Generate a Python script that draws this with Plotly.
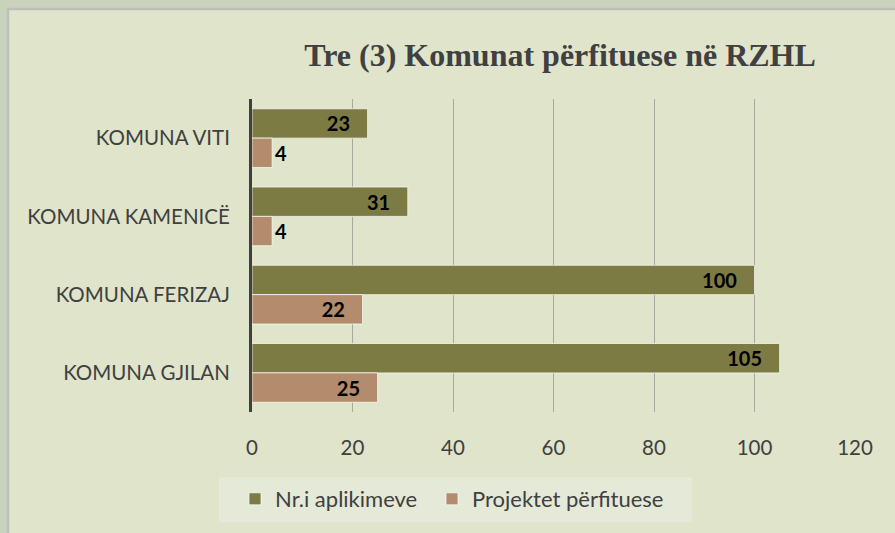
import plotly.graph_objects as go

categories = ["KOMUNA VITI", "KOMUNA KAMENICË", "KOMUNA FERIZAJ", "KOMUNA GJILAN"]
aplikime = [23, 31, 100, 105]
perfituese = [4, 4, 22, 25]
series_names = ["Nr.i aplikimeve", "Projektet përfituese"]
x_ticks = [0, 20, 40, 60, 80, 100, 120]
title_text = "Tre (3) Komunat përfituese në RZHL"

W, H = 895, 533
L, R, T, B = 252, 40, 99, 121
pw, ph = W - L - R, H - T - B

def px(xp):
    return (xp - L) / pw

def py(yp):
    return (H - B - yp) / ph

lbl_font = dict(family="Lato, sans-serif", size=20, color="black", weight="bold")
pad = "\u00a0\u00a0\u00a0"

fig = go.Figure()
fig.add_trace(go.Bar(
    y=categories, x=aplikime, name=series_names[0], orientation="h", legend="legend",
    marker=dict(color="#7d7b44", line=dict(color="rgba(255,255,255,0.7)", width=1)),
    texttemplate="%{x}" + pad, textposition="inside", insidetextanchor="end", textangle=0,
    textfont=lbl_font, insidetextfont=lbl_font,
    constraintext="none", cliponaxis=False, hoverinfo="skip",
))
fig.add_trace(go.Bar(
    y=categories, x=perfituese, name=series_names[1], orientation="h", legend="legend2",
    marker=dict(color="#b38b6d", line=dict(color="rgba(255,255,255,0.7)", width=1)),
    texttemplate=["%{x}", "%{x}", "%{x}" + pad, "%{x}" + pad],
    textposition=["outside", "outside", "inside", "inside"], insidetextanchor="end", textangle=0,
    textfont=lbl_font, insidetextfont=lbl_font, outsidetextfont=lbl_font,
    constraintext="none", cliponaxis=False, hoverinfo="skip",
))

shapes = [
    dict(type="rect", xref="paper", yref="paper", x0=px(-5), x1=px(W + 5), y0=py(H + 5), y1=py(-5),
         fillcolor="#c9d3bc", line=dict(width=0), layer="below"),
    dict(type="rect", xref="paper", yref="paper", x0=px(8), x1=px(W + 10), y0=py(H + 10), y1=py(9),
         fillcolor="#dfe4cb", line=dict(color="#bdbfbc", width=2.5), layer="below"),
    dict(type="rect", xref="paper", yref="paper", x0=px(219), x1=px(692), y0=py(522), y1=py(477),
         fillcolor="#e5e9d8", line=dict(width=0), layer="below"),
]

tick_font = dict(family="Lato, Open Sans, sans-serif", size=20.5, color="#404040")
leg_font = dict(family="Lato, Open Sans, sans-serif", size=22, color="#404040")

fig.update_layout(
    width=W, height=H,
    margin=dict(l=L, r=R, t=T, b=B, autoexpand=False),
    paper_bgcolor="#dfe4cb", plot_bgcolor="rgba(0,0,0,0)",
    shapes=shapes,
    barmode="group", bargap=0.25, bargroupgap=0.0,
    title=dict(text=title_text, x=560 / W, xanchor="center", y=1 - 55 / H, yanchor="middle",
               xref="container", yref="container", automargin=False,
               font=dict(family="Liberation Serif, Times New Roman, serif", size=32, color="#404040", weight="bold")),
    xaxis=dict(range=[0, 120], tickvals=x_ticks, showgrid=True, gridcolor="#a8ab9c", gridwidth=1,
               zeroline=False, showline=False, ticks="", ticklabelstandoff=21, automargin=False,
               tickfont=tick_font, fixedrange=True),
    yaxis=dict(autorange="reversed", showline=True, linecolor="#404040", linewidth=3,
               ticks="", ticklabelstandoff=15, showgrid=False, automargin=False,
               tickfont=tick_font, fixedrange=True),
    legend=dict(orientation="h", x=px(235), xanchor="left", y=py(499), yanchor="middle",
                bgcolor="rgba(0,0,0,0)", font=leg_font, itemwidth=30),
    legend2=dict(orientation="h", x=px(432), xanchor="left", y=py(499), yanchor="middle",
                 bgcolor="rgba(0,0,0,0)", font=leg_font, itemwidth=30),
    showlegend=True,
    hovermode=False,
)

fig.write_html("out.html", config={"displayModeBar": False},
               post_script="document.body.style.margin='0';")
